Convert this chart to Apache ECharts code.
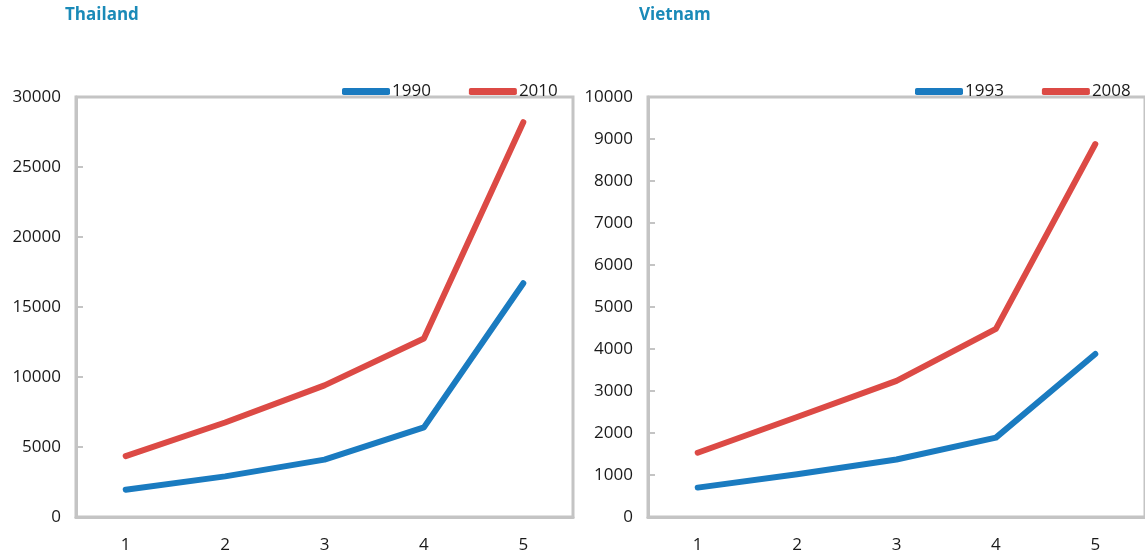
<!DOCTYPE html>
<html><head><meta charset="utf-8">
<script src="https://cdn.jsdelivr.net/npm/echarts@6/dist/echarts.min.js"></script>
<style>html,body{margin:0;padding:0;background:#fff}#c{width:1145px;height:556px}</style>
</head><body><div id="c"></div>
<script>
const categories = ['1','2','3','4','5'];
const thailand1990 = [1950, 2900, 4100, 6400, 16700];
const thailand2010 = [4350, 6750, 9400, 12750, 28200];
const vietnam1993 = [700, 1020, 1370, 1890, 3880];
const vietnam2008 = [1530, 2380, 3240, 4480, 8880];
const titles = ['Thailand', 'Vietnam'];

const BLUE = '#1a7bc0', RED = '#dc4a45', AXIS = '#c4c4c4';
const font = '"Open Sans", "Noto Sans", sans-serif';

function xAxis(i){
  return {type:'category', gridIndex:i, data:categories, boundaryGap:true,
    axisLine:{lineStyle:{color:AXIS,width:3}},
    axisTick:{inside:true,length:7,lineStyle:{color:AXIS,width:2}},
    axisLabel:{color:'#1a1a1a',fontSize:17,fontFamily:font,margin:20}};
}
function yAxis(i,max,interval){
  return {type:'value', gridIndex:i, min:0, max:max, interval:interval,
    axisLine:{show:true,lineStyle:{color:AXIS,width:3}},
    axisTick:{show:true,inside:true,length:7,lineStyle:{color:AXIS,width:2}},
    splitLine:{show:false},
    axisLabel:{color:'#1a1a1a',fontSize:17,fontFamily:font,margin:15,padding:[3,0,0,0],formatter:function(v){return String(v);}}};
}
function line(name,data,color,i){
  return {name:name,type:'line',xAxisIndex:i,yAxisIndex:i,data:data,symbol:'none',
    lineStyle:{color:color,width:6,cap:'round',join:'round'},itemStyle:{color:color}};
}
const legendCommon = {icon:'roundRect',itemWidth:48,itemHeight:7,itemGap:38,
  textStyle:{color:'#1a1a1a',fontSize:17,fontFamily:font,padding:[5,0,0,-3]}, top:78};

const chart = echarts.init(document.getElementById('c'));
chart.setOption({
  animation:false,
  title:[
    {text:titles[0],left:60,top:2,textStyle:{color:'#1a8ab8',fontSize:17,fontWeight:'bold',fontFamily:font}},
    {text:titles[1],left:634,top:2,textStyle:{color:'#1a8ab8',fontSize:17,fontWeight:'bold',fontFamily:font}}
  ],
  legend:[
    Object.assign({left:337,data:['1990','2010']},legendCommon),
    Object.assign({left:910,data:['1993','2008']},legendCommon)
  ],
  grid:[
    {left:76,top:97,width:497,height:420,show:true,borderColor:AXIS,borderWidth:3,backgroundColor:'transparent'},
    {left:648,top:97,width:498,height:420,show:true,borderColor:AXIS,borderWidth:3,backgroundColor:'transparent'}
  ],
  xAxis:[xAxis(0),xAxis(1)],
  yAxis:[yAxis(0,30000,5000),yAxis(1,10000,1000)],
  series:[
    line('1990',thailand1990,BLUE,0),
    line('2010',thailand2010,RED,0),
    line('1993',vietnam1993,BLUE,1),
    line('2008',vietnam2008,RED,1)
  ]
});
</script></body></html>
